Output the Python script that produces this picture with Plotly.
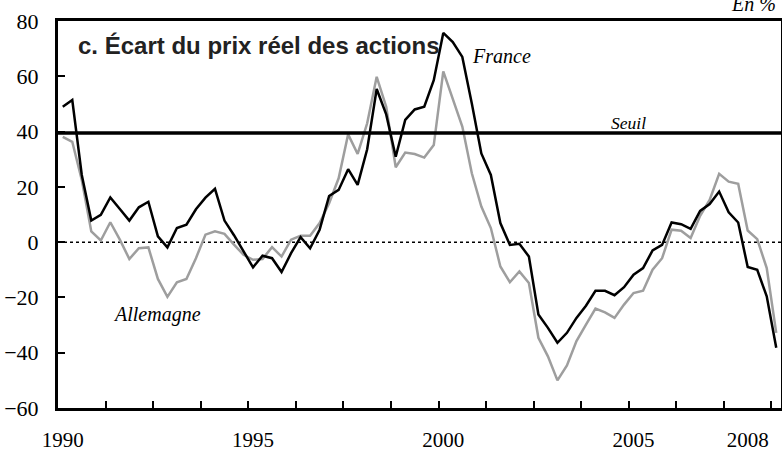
import plotly.graph_objects as go

# Quarterly data 1990Q1 - 2008Q4
quarters = [f"{y}T{q}" for y in range(1990, 2009) for q in range(1, 5)]

france = [49.0, 51.4, 24.3, 7.8, 9.9, 16.2, 12.0, 7.8, 12.6, 14.6,
          2.1, -1.9, 5.1, 6.3, 11.9, 16.1, 19.3, 7.8, 2.5, -3.5,
          -9.1, -4.9, -5.8, -10.8, -4.0, 1.8, -2.2, 4.5, 16.7, 18.9,
          26.4, 20.7, 33.6, 55.4, 46.2, 30.9, 44.2, 48.0, 49.0, 58.6,
          75.7, 72.4, 67.0, 50.2, 32.1, 24.3, 6.9, -1.0, -0.6, -5.2,
          -26.2, -31.0, -36.4, -32.8, -27.4, -23.0, -17.6, -17.6, -19.2, -16.3,
          -11.8, -9.4, -3.0, -1.0, 7.1, 6.5, 4.8, 11.3, 13.8, 18.3,
          10.8, 7.1, -9.0, -10.0, -19.6, -38.2]

allemagne = [38.1, 36.3, 22.5, 3.9, 0.6, 7.2, 0.9, -6.1, -2.2, -1.9,
             -13.3, -19.8, -14.5, -13.3, -5.8, 2.7, 3.9, 3.0, -0.9, -4.6,
             -6.4, -6.1, -1.8, -5.2, 0.9, 2.3, 2.3, 6.9, 14.1, 23.1,
             39.0, 31.9, 43.0, 59.8, 49.0, 27.1, 32.4, 31.9, 30.6, 35.1,
             61.8, 51.4, 41.8, 24.9, 12.9, 5.1, -8.8, -14.5, -10.6, -14.8,
             -34.6, -41.3, -50.0, -44.6, -35.8, -29.8, -24.0, -25.4, -27.4, -22.6,
             -18.4, -17.6, -10.0, -5.8, 4.5, 4.1, 1.5, 9.5, 15.3, 24.7,
             21.9, 21.1, 4.2, 1.1, -9.4, -32.8]

seuil = 39.5
year_labels = ["1990", "1995", "2000", "2005", "2008"]
label_idx = [0, 20, 40, 60, 72]
tick_idx = [4.5 + 5 * k for k in range(15)]
y_ticks = [-60, -40, -20, 0, 20, 40, 60, 80]

idx = list(range(len(quarters)))

fig = go.Figure()
fig.add_trace(go.Scatter(x=idx, y=allemagne, mode="lines", name="Allemagne",
                         line=dict(color="#9e9e9e", width=2.5), xaxis="x", yaxis="y",
                         hoverinfo="skip"))
fig.add_trace(go.Scatter(x=idx, y=france, mode="lines", name="France",
                         line=dict(color="black", width=2.5), xaxis="x2", yaxis="y",
                         hoverinfo="skip"))

# zero line (dotted) and threshold line
fig.add_shape(type="line", xref="paper", yref="y", x0=0, x1=1, y0=0, y1=0,
              line=dict(color="black", width=1.5, dash="dot"), layer="below")
fig.add_shape(type="line", xref="paper", yref="y", x0=0, x1=1, y0=seuil, y1=seuil,
              line=dict(color="black", width=3.5))

serif = "Times New Roman"
sans = "Arial"

fig.update_layout(
    width=782, height=453,
    margin=dict(l=58, r=1, t=21, b=45, autoexpand=False),
    paper_bgcolor="white", plot_bgcolor="white",
    showlegend=False,
    xaxis=dict(range=[-0.5, 75.5], showgrid=False, zeroline=False, automargin=False,
               showline=True, linecolor="black", linewidth=3, mirror=True,
               tickmode="array", tickvals=tick_idx, ticks="inside", ticklen=7,
               tickwidth=2, tickcolor="black", showticklabels=False),
    xaxis2=dict(range=[-0.5, 75.5], overlaying="x", side="bottom", automargin=False,
                showgrid=False, zeroline=False, showline=False,
                tickmode="array", tickvals=label_idx, ticktext=year_labels,
                ticks="", ticklabelstandoff=17,
                tickfont=dict(family=serif, size=21, color="black")),
    yaxis=dict(range=[-60, 80], showgrid=False, zeroline=False, automargin=False,
               showline=True, linecolor="black", linewidth=3, mirror=True,
               tickmode="array", tickvals=y_ticks, ticks="inside", ticklen=7,
               tickwidth=2, tickcolor="black", ticklabelstandoff=12,
               tickfont=dict(family=serif, size=22, color="black")),
)

fig.add_annotation(text="<b>c. Écart du prix réel des actions</b>", xref="paper", yref="y",
                   x=0.025, y=71.3, xanchor="left", yanchor="middle", showarrow=False,
                   font=dict(family=sans, size=24, color="#222222"))
fig.add_annotation(text="<i>France</i>", xref="x", yref="y", x=46.1, y=67.5,
                   xanchor="center", yanchor="middle", showarrow=False,
                   font=dict(family=serif, size=20, color="black"))
fig.add_annotation(text="<i>Seuil</i>", xref="x", yref="y", x=59.5, y=43.0,
                   xanchor="center", yanchor="middle", showarrow=False,
                   font=dict(family=serif, size=17.5, color="black"))
fig.add_annotation(text="<i>Allemagne</i>", xref="x", yref="y", x=9.9, y=-26.0,
                   xanchor="center", yanchor="middle", showarrow=False,
                   font=dict(family=serif, size=20, color="black"))
fig.add_annotation(text="<i>En %</i>", xref="paper", yref="paper", x=0.928, y=1.044,
                   xanchor="left", yanchor="middle", showarrow=False,
                   font=dict(family=serif, size=20, color="black"))

fig.write_html("out.html", config={"displayModeBar": False},
               post_script="document.body.style.margin='0';document.body.style.padding='0';")
